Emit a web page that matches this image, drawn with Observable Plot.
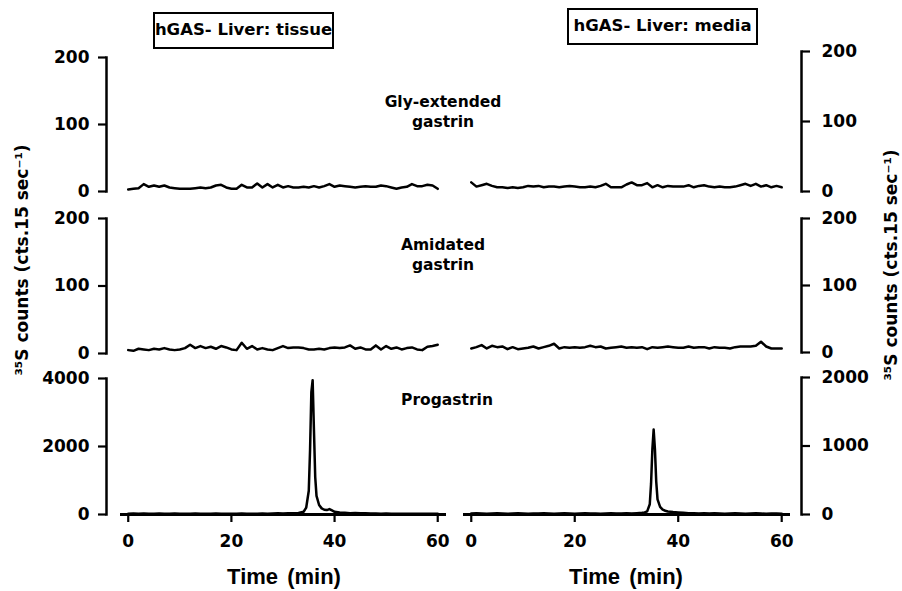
<!DOCTYPE html>
<html><head><meta charset="utf-8">
<script src="https://cdn.jsdelivr.net/npm/d3@7"></script>
<script src="https://cdn.jsdelivr.net/npm/@observablehq/plot@0.6"></script>
<style>
body{margin:0;background:#fff;}
#chart{position:relative;width:902px;height:591px;overflow:hidden;font-family:"DejaVu Sans",sans-serif;font-weight:bold;color:#000;background:#fff;}
#chart svg{position:absolute;left:0;top:0;}
.box{position:absolute;border:2px solid #000;box-sizing:border-box;font-size:16.5px;line-height:1;display:flex;align-items:center;justify-content:center;white-space:nowrap;background:#fff;}
.lab{position:absolute;text-align:center;font-size:15.5px;line-height:20px;transform:translateX(-50%);white-space:pre;}
.ytitle{position:absolute;font-size:17px;white-space:nowrap;transform:translate(-50%,-50%) rotate(-90deg);}
.xtitle{position:absolute;font-family:"Liberation Sans",sans-serif;font-size:22px;word-spacing:3px;transform:translate(-50%,-50%);white-space:nowrap;}
</style></head>
<body>
<div id="chart"></div>
<script>
// ---- data ----
const timeMin = [0,1,2,3,4,5,6,7,8,9,10,11,12,13,14,15,16,17,18,19,20,21,22,23,24,25,26,27,28,29,30,31,32,33,34,35,36,37,38,39,40,41,42,43,44,45,46,47,48,49,50,51,52,53,54,55,56,57,58,59,60];
const tissueGly = [3,4,5,11,7,9,7,9,6,5, 4,4,4,5,6,5,6,9,10,6, 4,4,10,6,6,12,6,11,6,10, 6,8,6,6,7,6,8,6,8,11, 7,9,8,7,6,7,8,7,7,9, 8,6,4,6,7,11,8,8,10,9, 4];
const mediaGly = [13,7,9,11,8,6,6,5,6,5, 6,8,7,8,6,7,7,6,7,8, 7,6,6,7,6,8,11,6,6,6, 10,13,9,9,12,6,9,6,8,7, 7,7,9,6,8,9,7,6,7,6, 6,7,9,11,8,11,7,9,6,8, 6];
const tissueAmid = [5,4,7,6,5,7,6,8,6,5, 6,8,13,8,11,8,10,7,11,9, 6,5,16,7,11,6,8,6,5,8, 11,8,9,9,8,6,6,7,6,8, 9,8,9,12,7,9,6,6,12,6, 11,7,9,6,8,9,6,5,10,11, 13];
const mediaAmid = [6,8,11,6,10,8,9,5,8,5, 6,7,9,6,8,10,13,6,8,7, 8,7,8,10,8,9,6,7,8,9, 7,8,7,8,5,8,7,8,9,8, 7,7,9,7,8,8,6,8,7,7, 6,8,9,9,9,10,16,9,6,6, 6];
const tissueProgTime = [0,1,2,3,4,5,6,7,8,9,10,11,12,13,14,15,16,17,18,19,20,21,22,23,24,25,26,27,28,29,30,31,32,33,34,34.5,35,35.25,35.5,35.75,36,36.25,36.5,37,37.5,38,38.5,39,39.5,40,41,42,43,44,45,46,47,48,49,50,51,52,53,54,55,56,57,58,59,60];
const tissueProg = [20,30,25,30,20,25,30,25,20,30, 25,20,25,30,25,20,25,30,25,20, 25,20,30,25,20,25,30,25,30,35, 30,35,40,45,80,
  200,700,1900,3600,3950,2500,1100,550,280,180,140,130,160,120,80,
  60,50,40,45,40,35,30,30,25,30, 25,20,25,20,25,20,25,20,25,20];
const mediaProgTime = [0,1,2,3,4,5,6,7,8,9,10,11,12,13,14,15,16,17,18,19,20,21,22,23,24,25,26,27,28,29,30,31,32,33,33.5,34,34.5,34.75,35,35.25,35.5,35.75,36,36.5,37,37.5,38,39,40,41,42,43,44,45,46,47,48,49,50,51,52,53,54,55,56,57,58,59,60];
const mediaProg = [15,20,15,10,15,20,15,10,15,20, 15,10,15,15,20,15,10,15,20,15, 10,15,20,15,15,10,15,20,15,15, 20,15,20,25,
  30,45,150,450,950,1240,950,480,220,110,70,55,45,35,30,
  25,20,20,15,20,15,20,15,10,15, 20,15,10,15,20,15,10,15,15,10];
const xTicks = [0,20,40,60];
const xExtent = [-1.5, 61.7];
const yTicksSmall = [0,100,200];
const yTicksTissueProg = [0,2000,4000];
const yTicksMediaProg = [0,1000,2000];
const rowLabels = ["Gly-extended\ngastrin", "Amidated\ngastrin", "Progastrin"];
const columnTitles = ["hGAS- Liver: tissue", "hGAS- Liver: media"];
const yTitle = "³⁵S counts (cts.15 sec⁻¹)";
const xTitle = "Time (min)";

// ---- layout ----
const W = 902, H = 591;
const columns = [
  {side: "left", marginLeft: 106, marginRight: W - 450, xRange: [120, 446], tickPadding: 9},
  {side: "right", marginLeft: 455, marginRight: W - 801, xRange: [463, 790], tickPadding: 12}
];
const panels = [
  {col: 0, top: 57, bottom: 191, t: timeMin, v: tissueGly, yDomain: [0,200], yTicks: yTicksSmall, xAxis: false},
  {col: 1, top: 51, bottom: 191, t: timeMin, v: mediaGly, yDomain: [0,200], yTicks: yTicksSmall, xAxis: false},
  {col: 0, top: 218, bottom: 353, t: timeMin, v: tissueAmid, yDomain: [0,200], yTicks: yTicksSmall, xAxis: false},
  {col: 1, top: 218, bottom: 352, t: timeMin, v: mediaAmid, yDomain: [0,200], yTicks: yTicksSmall, xAxis: false},
  {col: 0, top: 378, bottom: 514, t: tissueProgTime, v: tissueProg, yDomain: [0,4000], yTicks: yTicksTissueProg, xAxis: true},
  {col: 1, top: 377, bottom: 514, t: mediaProgTime, v: mediaProg, yDomain: [0,2000], yTicks: yTicksMediaProg, xAxis: true}
];

const chart = document.getElementById("chart");

for (const p of panels) {
  const c = columns[p.col];
  const data = p.t.map((t, i) => ({t, v: p.v[i]}));
  const marks = [
    Plot.frame({anchor: c.side, strokeWidth: 2.5}),
    Plot.axisY({anchor: c.side, ticks: p.yTicks, tickSize: 8, tickPadding: c.tickPadding, tickFormat: "d", label: null,
      strokeWidth: 2.2, fontSize: 17, fontWeight: "bold"}),
    Plot.line(data, {x: "t", y: "v", stroke: "#000", strokeWidth: 2.5, strokeLinejoin: "round"})
  ];
  if (p.xAxis) {
    marks.push(Plot.ruleY([0], {x1: xExtent[0], x2: xExtent[1], strokeWidth: 2.8}));
    marks.push(Plot.axisX({ticks: xTicks, tickSize: 8, tickPadding: 12, tickFormat: "d", label: null,
      strokeWidth: 2.2, fontSize: 17, fontWeight: "bold"}));
  }
  const svg = Plot.plot({
    width: W, height: H,
    marginLeft: c.marginLeft, marginRight: c.marginRight,
    marginTop: p.top, marginBottom: H - p.bottom,
    x: {domain: xExtent, range: c.xRange, ...(p.xAxis ? {} : {axis: null})},
    y: {domain: p.yDomain},
    style: {background: "transparent", fontFamily: "DejaVu Sans", fontWeight: "bold", fontSize: "17px", overflow: "visible"},
    marks
  });
  chart.appendChild(svg);
}

// column titles in boxes
const boxes = [
  {left: 153, top: 12, width: 181, height: 37},
  {left: 567, top: 8, width: 191, height: 37}
];
columnTitles.forEach((txt, i) => {
  const d = document.createElement("div");
  d.className = "box";
  Object.assign(d.style, {left: boxes[i].left + "px", top: boxes[i].top + "px", width: boxes[i].width + "px", height: boxes[i].height + "px"});
  d.textContent = txt;
  chart.appendChild(d);
});

// row labels
const labelPos = [{x: 443, y: 92}, {x: 443, y: 235}, {x: 447, y: 390}];
rowLabels.forEach((txt, i) => {
  const d = document.createElement("div");
  d.className = "lab";
  Object.assign(d.style, {left: labelPos[i].x + "px", top: labelPos[i].y + "px"});
  d.textContent = txt;
  chart.appendChild(d);
});

// y titles
[{x: 22, y: 260}, {x: 891, y: 265}].forEach(pos => {
  const d = document.createElement("div");
  d.className = "ytitle";
  Object.assign(d.style, {left: pos.x + "px", top: pos.y + "px"});
  d.textContent = yTitle;
  chart.appendChild(d);
});

// x titles
[{x: 284, y: 577}, {x: 626, y: 577}].forEach(pos => {
  const d = document.createElement("div");
  d.className = "xtitle";
  Object.assign(d.style, {left: pos.x + "px", top: pos.y + "px"});
  d.textContent = xTitle;
  chart.appendChild(d);
});
</script>
</body></html>
